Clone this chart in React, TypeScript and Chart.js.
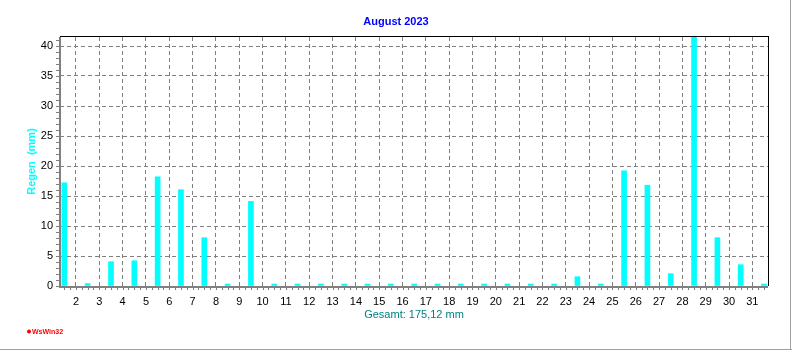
import React, { useEffect, useRef } from 'react';
import { Chart, registerables } from 'chart.js';

Chart.register(...registerables);

const TITLE = 'August 2023';
const Y_TITLE = 'Regen  (mm)';
const X_TITLE = 'Gesamt: 175,12 mm';
const LOGO = 'WsWin32';

const days = [1, 2, 3, 4, 5, 6, 7, 8, 9, 10, 11, 12, 13, 14, 15, 16, 17, 18, 19, 20, 21, 22, 23, 24, 25, 26, 27, 28, 29, 30, 31];
const rainMm = [17.2, 0.4, 4.05, 4.2, 18.2, 16.05, 8.05, 0, 14.1, 0, 0, 0, 0, 0, 0, 0, 0, 0, 0, 0, 0, 0, 1.55, 0, 19.2, 16.8, 2.05, 41.7, 8.05, 3.55, 0];
const xTickValues = [2, 3, 4, 5, 6, 7, 8, 9, 10, 11, 12, 13, 14, 15, 16, 17, 18, 19, 20, 21, 22, 23, 24, 25, 26, 27, 28, 29, 30, 31];
const yTickValues = [0, 5, 10, 15, 20, 25, 30, 35, 40];

const X_MIN = 1.314;
const X_MAX = 31.67;
const Y_MAX = 41.5;

const FONT = "'Liberation Sans', Arial, sans-serif";

const framePlugin = {
  id: 'frame',
  afterDatasetsDraw(chart: any) {
    const { ctx, chartArea: a, scales } = chart;
    const xs = scales.x;
    const ys = scales.y;
    ctx.save();
    ctx.fillStyle = '#808080';
    // minor ticks on y axis (every unit)
    for (let v = 0; v <= Y_MAX; v += 1) {
      const py = Math.round(ys.getPixelForValue(v));
      ctx.fillRect(a.left - 4, py, 3, 1);
    }
    // minor ticks on x axis (quarter days)
    for (let v = days[0] + 0.5; v <= X_MAX; v += 0.25) {
      const px = Math.round(xs.getPixelForValue(v));
      if (px < a.left) continue;
      ctx.fillRect(px, a.bottom + 2, 1, 2);
    }
    // axis lines
    ctx.fillRect(a.left - 1, a.top, 2, a.bottom - a.top + 2);
    ctx.fillRect(a.left - 1, a.bottom, a.right - a.left + 1, 2);
    ctx.fillStyle = '#000000';
    ctx.fillRect(a.left, a.top - 1, a.right - a.left + 1, 1);
    ctx.fillRect(a.right, a.top - 1, 1, a.bottom - a.top + 1);
    // outer frame
    ctx.fillStyle = '#a0a0a0';
    ctx.fillRect(chart.width - 2, 0, 1, chart.height);
    ctx.fillRect(0, chart.height - 1, chart.width, 1);
    // title
    ctx.fillStyle = '#0000ff';
    ctx.font = `bold 11px ${FONT}`;
    ctx.textAlign = 'center';
    ctx.textBaseline = 'middle';
    ctx.fillText(TITLE, chart.width / 2, 22);
    // logo
    ctx.fillStyle = '#ff0000';
    ctx.beginPath();
    ctx.arc(29, 331.5, 2, 0, Math.PI * 2);
    ctx.fill();
    ctx.font = `bold 7px ${FONT}`;
    ctx.textAlign = 'left';
    ctx.fillText(LOGO, 32, 332);
    ctx.restore();
  },
};

export default function App() {
  const canvasRef = useRef<HTMLCanvasElement | null>(null);

  useEffect(() => {
    const canvas = canvasRef.current;
    if (!canvas) return;
    const chart = new Chart(canvas, {
      type: 'bar',
      data: {
        datasets: [
          {
            data: days.map((d, i) => ({ x: d + 0.5, y: rainMm[i] })),
            backgroundColor: '#00ffff',
            borderWidth: 0,
            barThickness: 5,
            minBarLength: 2,
          },
        ],
      },
      options: {
        animation: false,
        responsive: false,
        devicePixelRatio: 1,
        layout: { padding: { top: 37, right: 24, left: 0, bottom: 0 } },
        plugins: {
          legend: { display: false },
          title: { display: false },
          tooltip: { enabled: false },
        },
        scales: {
          x: {
            type: 'linear',
            min: X_MIN,
            max: X_MAX,
            offset: false,
            grid: { offset: false, color: '#808080', drawTicks: false, lineWidth: 1 },
            border: { display: false, dash: [4, 3] },
            ticks: {
              color: '#000000',
              font: { family: FONT, size: 11 },
              padding: 9,
              maxRotation: 0,
              autoSkip: false,
              includeBounds: false,
            },
            afterBuildTicks: (s: any) => {
              s.ticks = xTickValues.map((v) => ({ value: v }));
            },
            afterFit: (s: any) => {
              s.height = 64;
            },
            title: {
              display: true,
              text: X_TITLE,
              color: '#008080',
              font: { family: FONT, size: 11, lineHeight: 1 },
              padding: { top: 0, bottom: 29.5 },
            },
          },
          y: {
            type: 'linear',
            min: 0,
            max: Y_MAX,
            grid: { color: '#808080', drawTicks: false, lineWidth: 1 },
            border: { display: false, dash: [4, 3] },
            ticks: {
              color: '#000000',
              font: { family: FONT, size: 11 },
              padding: 7,
              includeBounds: false,
            },
            afterBuildTicks: (s: any) => {
              s.ticks = yTickValues.map((v) => ({ value: v }));
            },
            afterFit: (s: any) => {
              s.width = 60;
            },
            title: {
              display: true,
              text: Y_TITLE,
              color: '#00ffff',
              font: { family: FONT, size: 11, weight: 'bold', lineHeight: 1 },
              padding: { top: 26.5, bottom: 0 },
            },
          },
        },
      },
      plugins: [framePlugin],
    });
    return () => chart.destroy();
  }, []);

  return (
    <div style={{ position: 'absolute', left: 0, top: 0, width: 792, height: 350, background: '#ffffff' }}>
      <canvas ref={canvasRef} width={792} height={350} style={{ display: 'block' }} />
    </div>
  );
}
